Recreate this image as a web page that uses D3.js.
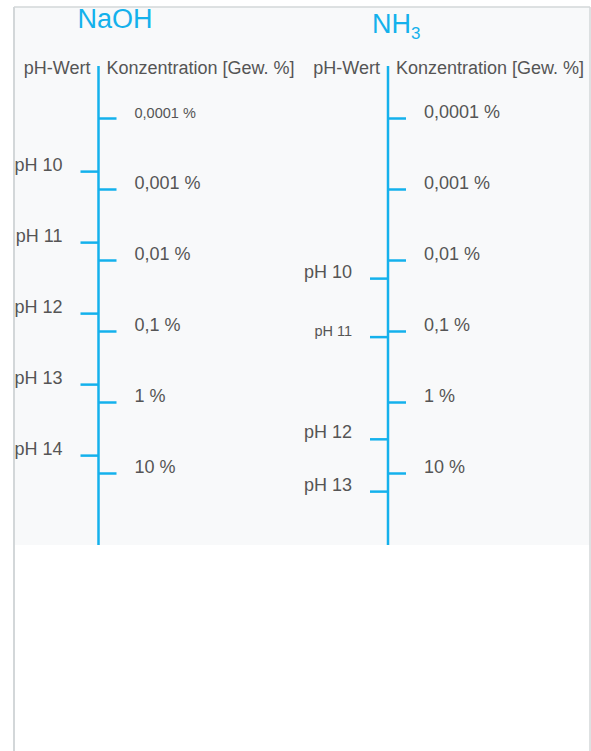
<!DOCTYPE html>
<html>
<head>
<meta charset="utf-8">
<script src="https://cdn.jsdelivr.net/npm/d3@7"></script>
<style>
    body { margin: 0; background: #ffffff; }
    text { font-family: "Liberation Sans", Arial, sans-serif; }
</style>
</head>
<body>
<svg id="chart" width="591" height="751"></svg>
<script>

// concentration scale (same for both substances)
const concValues = [0.0001, 0.001, 0.01, 0.1, 1, 10];
const concLabels = ["0,0001 %", "0,001 %", "0,01 %", "0,1 %", "1 %", "10 %"];

// pH marks, placed at the concentration they belong to
const naohPH = [10, 11, 12, 13, 14];
const naohPHConc = [0.00056, 0.0056, 0.056, 0.56, 5.6];

const nh3PH = [10, 11, 12, 13];
const nh3PHConc = [0.018, 0.12, 3.3, 18];

const blue = "#14b1ec";
const grey = "#555555";

let svg = d3.select("#chart");

// panel background + frame
svg.append("rect")
   .attr("x", 14).attr("y", 7)
   .attr("width", 576).attr("height", 538)
   .attr("fill", "#f8f9fa");

let frame = "#d3d7d9";
svg.append("line").attr("x1", 14).attr("y1", 7).attr("x2", 14).attr("y2", 751)
   .attr("stroke", frame).attr("stroke-width", 2);
svg.append("line").attr("x1", 590).attr("y1", 7).attr("x2", 590).attr("y2", 751)
   .attr("stroke", frame).attr("stroke-width", 1.5);
svg.append("line").attr("x1", 14).attr("y1", 7).attr("x2", 590).attr("y2", 7)
   .attr("stroke", frame).attr("stroke-width", 1.5);

let y = d3.scaleLog().domain([0.0001, 10]).range([118, 473]);


function drawScale(x, phValues, phConc, smallConc, smallPH) {

    let g = svg.append("g").attr("transform", "translate(" + x + ",0)");

    // right side: concentration
    let right = d3.axisRight(y)
                  .tickValues(concValues)
                  .tickFormat((d, i) => concLabels[i])
                  .tickSize(18)
                  .tickPadding(18);

    let ga = g.append("g").call(right);
    ga.select(".domain").remove();

    // left side: pH
    let left = d3.axisLeft(y)
                 .tickValues(phConc)
                 .tickFormat((d, i) => "pH " + phValues[i])
                 .tickSize(18)
                 .tickPadding(18);

    let gb = g.append("g").call(left);
    gb.select(".domain").remove();

    [ga, gb].forEach(function (s) {
        s.selectAll(".tick line")
         .attr("stroke", blue)
         .attr("stroke-width", 2.5);
        s.selectAll(".tick text")
         .attr("fill", grey)
         .attr("font-size", 18)
         .attr("dy", "-1");
    });

    ga.selectAll(".tick text")
      .filter((d, i) => smallConc.includes(i))
      .attr("font-size", 14.5);

    gb.selectAll(".tick text")
      .filter((d, i) => smallPH.includes(i))
      .attr("font-size", 14.5);

    // main vertical line
    g.append("line")
     .attr("x1", 0).attr("x2", 0)
     .attr("y1", 66).attr("y2", 545)
     .attr("stroke", blue)
     .attr("stroke-width", 2.5);

    // headers
    g.append("text")
     .attr("x", -8).attr("y", 74)
     .attr("text-anchor", "end")
     .attr("font-size", 18)
     .attr("fill", grey)
     .text("pH-Wert");

    g.append("text")
     .attr("x", 8).attr("y", 74)
     .attr("font-size", 18)
     .attr("fill", grey)
     .text("Konzentration [Gew. %]");

    return g;
}

drawScale(98.5, naohPH, naohPHConc, [0], []);
drawScale(388, nh3PH, nh3PHConc, [], [1]);

// titles
svg.append("text")
   .attr("x", 115).attr("y", 28)
   .attr("text-anchor", "middle")
   .attr("font-size", 27)
   .attr("fill", blue)
   .text("NaOH");

let nh3 = svg.append("text")
   .attr("x", 372).attr("y", 33)
   .attr("font-size", 27)
   .attr("fill", blue);
nh3.append("tspan").text("NH");
nh3.append("tspan").attr("font-size", 17).attr("dy", 6).text("3");

</script>
</body>
</html>
